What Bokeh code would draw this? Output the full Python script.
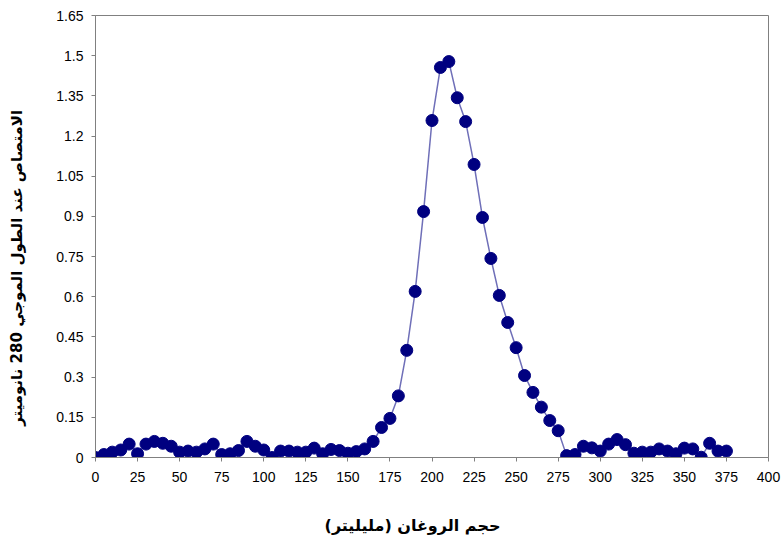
from bokeh.plotting import figure
from bokeh.models import FixedTicker, Range1d
from bokeh.embed import file_html
from bokeh.resources import INLINE

volume = list(range(0, 380, 5))
absorbance = [
    0.0, 0.011, 0.02, 0.028, 0.05, 0.014, 0.05, 0.06, 0.053, 0.042,
    0.02, 0.024, 0.02, 0.032, 0.05, 0.011, 0.014, 0.026, 0.06, 0.042,
    0.028, 0.0, 0.024, 0.024, 0.02, 0.02, 0.035, 0.014, 0.03, 0.026,
    0.016, 0.022, 0.032, 0.06, 0.112, 0.146, 0.23, 0.40, 0.62, 0.918,
    1.258, 1.456, 1.478, 1.343, 1.254, 1.094, 0.896, 0.743, 0.605, 0.504,
    0.41, 0.306, 0.243, 0.188, 0.138, 0.10, 0.007, 0.011, 0.042, 0.036,
    0.024, 0.05, 0.067, 0.048, 0.016, 0.02, 0.02, 0.032, 0.024, 0.014,
    0.035, 0.032, 0.001, 0.053, 0.024, 0.024,
]
x_ticks = list(range(0, 425, 25))
y_ticks = [0, 0.15, 0.3, 0.45, 0.6, 0.75, 0.9, 1.05, 1.2, 1.35, 1.5, 1.65]
y_tick_labels = ["0", "0.15", "0.3", "0.45", "0.6", "0.75", "0.9", "1.05", "1.2", "1.35", "1.5", "1.65"]
x_title = "حجم الروغان (مليليتر)"
y_title = "الامتصاص عند الطول الموجي 280 نانوميتر"

NBSP = "\u00a0"

p = figure(width=784, height=550, output_backend="svg", toolbar_location=None,
           x_range=Range1d(0, 400), y_range=Range1d(0, 1.65),
           min_border_left=95, min_border_right=16, min_border_top=15, min_border_bottom=93)
p.background_fill_color = "white"
p.border_fill_color = "white"
p.outline_line_color = "#808080"
p.outline_line_width = 1
p.grid.visible = False

p.line(volume, absorbance, line_color="#6f6fb8", line_width=1.5)
p.scatter(volume, absorbance, size=12, fill_color="#000080", line_color="#000080")

for ax in (p.xaxis[0], p.yaxis[0]):
    ax.axis_line_color = "#808080"
    ax.major_tick_line_color = "#808080"
    ax.minor_tick_line_color = None
    ax.major_tick_in = 0
    ax.major_tick_out = 4
    ax.major_label_text_font = "Liberation Sans"
    ax.major_label_text_font_size = "14px"
    ax.major_label_text_color = "black"
    ax.axis_label_text_font = "DejaVu Sans"
    ax.axis_label_text_font_style = "bold"
    ax.axis_label_text_color = "black"

p.xaxis[0].ticker = FixedTicker(ticks=x_ticks)
p.xaxis[0].major_label_standoff = 10
p.xaxis[0].axis_label = x_title + NBSP * 7
p.xaxis[0].axis_label_text_font_size = "16px"
p.xaxis[0].axis_label_standoff = 31

p.yaxis[0].ticker = FixedTicker(ticks=y_ticks)
p.yaxis[0].major_label_overrides = {t: l for t, l in zip(y_ticks, y_tick_labels)}
p.yaxis[0].major_label_standoff = 8
p.yaxis[0].axis_label = y_title + NBSP * 12
p.yaxis[0].axis_label_text_font_size = "15px"
p.yaxis[0].axis_label_standoff = 27

open("out.html", "w").write(file_html(p, INLINE))
